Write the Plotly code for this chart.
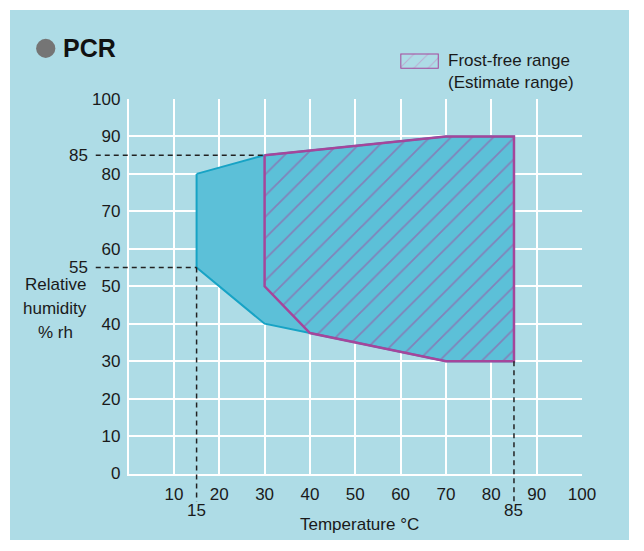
import plotly.graph_objects as go

# ---------------- data ----------------
PCR_T = [15, 30, 70, 85, 85, 70, 40, 30, 15, 15]
PCR_RH = [80, 85, 90, 90, 30, 30, 37.5, 40, 55, 80]
FROST_T = [30, 70, 85, 85, 70, 40, 30, 30]
FROST_RH = [85, 90, 90, 30, 30, 37.5, 50, 85]
X_TICKS = [0, 10, 20, 30, 40, 50, 60, 70, 80, 90, 100]
X_TICK_TEXT = ["", "10", "20", "30", "40", "50", "60", "70", "80", "90", "100"]
Y_TICKS = [0, 10, 20, 30, 40, 50, 60, 70, 80, 90, 100]
Y_TICK_TEXT = ["0", "10", "20", "30", "40", "50", "60", "70", "80", "90", "100"]
REF_RH = [85, 55]        # humidity reference values (dashed horizontals)
REF_RH_END_T = [30, 15]  # temperature where each horizontal ends
REF_T = [15, 85]         # temperature reference values (dashed verticals)
REF_T_END_RH = [55, 30]  # humidity where each vertical ends
SWATCH_X = [0, 1, 1, 0, 0]
SWATCH_Y = [0, 0, 1, 1, 0]

# ---------------- style ----------------
W, H = 644, 551
ML, MR, MT, MB = 10, 6, 8, 1
PW, PH = W - ML - MR, H - MT - MB
PANEL = "#aedce6"
CYAN_FILL = "#5cc0d8"
CYAN_LINE = "#17a3c5"
MAGENTA = "#a5469b"
TXT = "#1a1a1a"
FONT = "Liberation Sans, Arial, sans-serif"
FS = 17


def px(x):
    """page x pixel -> paper fraction"""
    return (x - ML) / PW


def py(y):
    """page y pixel -> paper fraction"""
    return (H - MB - y) / PH


XR = [0, 100]
YR = [0, 100]
XD = [px(130.3), px(590.3)]
YD = [py(482), py(99)]


def xpaper(v):
    return XD[0] + (v - XR[0]) / (XR[1] - XR[0]) * (XD[1] - XD[0])


def ypaper(v):
    return YD[0] + (v - YR[0]) / (YR[1] - YR[0]) * (YD[1] - YD[0])


fig = go.Figure()

fig.add_trace(go.Scatter(
    x=PCR_T, y=PCR_RH, mode="lines", fill="toself",
    fillcolor=CYAN_FILL, line=dict(color=CYAN_LINE, width=2),
    hoverinfo="skip", showlegend=False))

fig.add_trace(go.Scatter(
    x=FROST_T, y=FROST_RH, mode="lines", fill="toself",
    fillcolor="rgba(0,0,0,0)",
    fillpattern=dict(shape="/", fgcolor=MAGENTA, bgcolor="rgba(0,0,0,0)",
                     size=15, solidity=0.12),
    line=dict(color=MAGENTA, width=2.5),
    hoverinfo="skip", showlegend=False))

# legend swatch drawn in its own small overlay subplot
fig.add_trace(go.Scatter(
    x=SWATCH_X, y=SWATCH_Y, mode="lines", fill="toself",
    fillcolor="rgba(0,0,0,0)",
    fillpattern=dict(shape="/", fgcolor="#c77dbf", bgcolor="rgba(0,0,0,0)",
                     size=10, solidity=0.1),
    line=dict(color=MAGENTA, width=2),
    xaxis="x2", yaxis="y2", hoverinfo="skip", showlegend=False))

shapes = [
    dict(type="rect", xref="paper", yref="paper", x0=0, x1=1, y0=0, y1=1,
         fillcolor=PANEL, line=dict(width=0), layer="below"),
    dict(type="circle", xref="paper", yref="paper",
         x0=px(36.5), x1=px(56), y0=py(57), y1=py(37.5),
         fillcolor="#757575", line=dict(width=0)),
]
for rh, t in zip(REF_RH, REF_RH_END_T):
    shapes.append(dict(type="line", xref="paper", yref="y",
                       x0=px(97), x1=xpaper(t), y0=rh, y1=rh,
                       line=dict(color="#222222", width=1.5, dash="5px,4px")))
for t, rh in zip(REF_T, REF_T_END_RH):
    shapes.append(dict(type="line", xref="x", yref="paper",
                       x0=t, x1=t, y0=ypaper(rh), y1=py(511),
                       line=dict(color="#222222", width=1.5, dash="5px,4px")))

annotations = [
    dict(text="<b>PCR</b>", xref="paper", yref="paper", x=px(62), y=py(47),
         xanchor="left", yanchor="middle", showarrow=False,
         font=dict(size=25, color="#111111", family=FONT)),
    dict(text="Frost-free range<br>(Estimate range)", xref="paper", yref="paper",
         x=px(452.5), y=py(70.5), align="left",
         xanchor="left", yanchor="middle", showarrow=False,
         font=dict(size=FS, color=TXT, family=FONT)),
    dict(text="Temperature °C", xref="paper", yref="paper", x=px(364.5), y=py(534),
         xanchor="center", yanchor="middle", showarrow=False,
         font=dict(size=FS, color=TXT, family=FONT)),
]
for i, line in enumerate(["Relative", "humidity", "% rh"]):
    annotations.append(dict(text=line, xref="paper", yref="paper",
                            x=px(56), y=py(289 + 24.5 * i),
                            xanchor="center", yanchor="middle", showarrow=False,
                            font=dict(size=FS, color=TXT, family=FONT)))
for rh in REF_RH:
    annotations.append(dict(text=str(rh), xref="paper", yref="y", x=px(91.5), y=rh,
                            xanchor="right", yanchor="middle", showarrow=False,
                            font=dict(size=FS, color=TXT, family=FONT)))
for t in REF_T:
    annotations.append(dict(text=str(t), xref="x", yref="paper", x=t, y=py(520),
                            xanchor="center", yanchor="middle", showarrow=False,
                            font=dict(size=FS, color=TXT, family=FONT)))

fig.update_layout(
    width=W, height=H,
    margin=dict(l=ML, r=MR, t=MT, b=MB, pad=0),
    paper_bgcolor="white", plot_bgcolor=PANEL,
    font=dict(family=FONT, size=FS, color=TXT),
    showlegend=False,
    xaxis=dict(domain=XD, range=XR, tickvals=X_TICKS, ticktext=X_TICK_TEXT,
               showgrid=True, gridcolor="white", gridwidth=1.5,
               showline=True, linecolor="white", linewidth=1.5,
               zeroline=False, ticks="outside", ticklen=4, tickcolor="rgba(0,0,0,0)",
               tickfont=dict(size=FS, color=TXT), anchor="y", fixedrange=True),
    yaxis=dict(domain=YD, range=YR, tickvals=Y_TICKS, ticktext=Y_TICK_TEXT,
               showgrid=True, gridcolor="white", gridwidth=1.5,
               showline=True, linecolor="white", linewidth=1.5,
               zeroline=False, ticks="outside", ticklen=3, tickcolor="rgba(0,0,0,0)",
               tickfont=dict(size=FS, color=TXT), anchor="x", fixedrange=True),
    xaxis2=dict(domain=[px(406), px(445)], range=[0, 1], visible=False,
                anchor="y2", fixedrange=True),
    yaxis2=dict(domain=[py(68), py(52.5)], range=[0, 1], visible=False,
                anchor="x2", fixedrange=True),
    shapes=shapes,
    annotations=annotations,
)

fig.write_html(
    "out.html",
    config={"displayModeBar": False},
    post_script="document.body.style.margin='0';document.body.style.padding='0';",
)
